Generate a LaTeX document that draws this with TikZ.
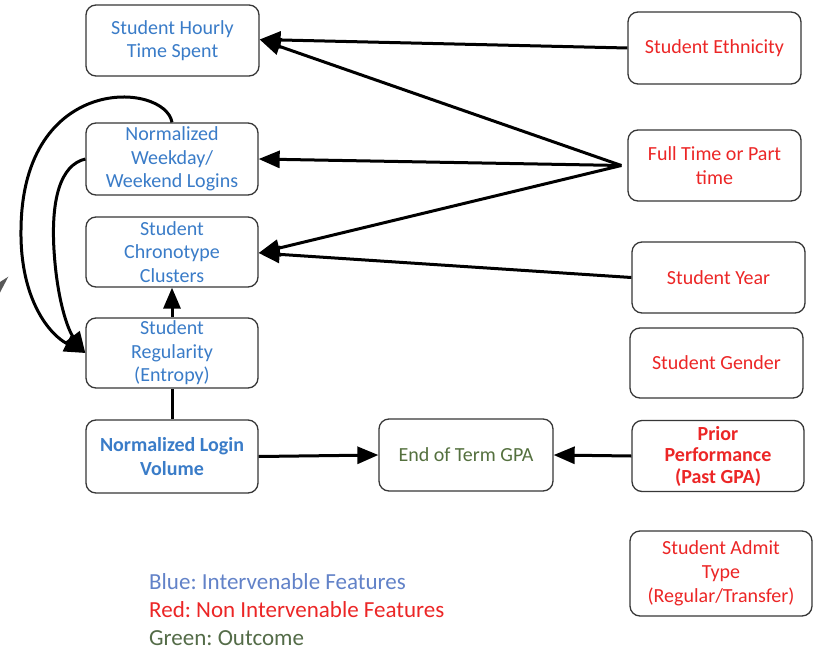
\documentclass[tikz,border=0pt]{standalone}
\usepackage{fontspec}
\setmainfont{Carlito}
\usetikzlibrary{arrows.meta}
\frenchspacing

\definecolor{featblue}{RGB}{58,124,200}
\definecolor{featred}{RGB}{236,38,38}
\definecolor{outgreen}{RGB}{84,112,62}
\definecolor{keyblue}{RGB}{98,130,200}
\definecolor{keygreen}{RGB}{84,108,72}
\definecolor{boxline}{RGB}{55,55,55}
\definecolor{tipgrey}{RGB}{88,88,88}

\tikzset{
  feature/.style={draw=boxline, line width=1.3pt, rounded corners=10pt, fill=white,
    align=center, inner sep=1pt, font=\fontsize{20}{23.5}\selectfont},
  intv/.style={feature, text=featblue},
  nonintv/.style={feature, text=featred},
  outcome/.style={feature, text=outgreen},
  link/.style={line width=3pt, -{Triangle[length=21pt,width=17pt]}},
  plainlink/.style={line width=3pt},
  keytext/.style={anchor=west, inner sep=0pt, font=\fontsize{23}{26}\selectfont}
}

\begin{document}
\begin{tikzpicture}[x=1pt,y=-1pt]
\useasboundingbox[fill=white] (0,0) rectangle (813,650);

% intervenable features (left column)
\node[intv, minimum width=173pt, minimum height=71pt] (hours) at (172.5,40.5) {Student Hourly\\Time Spent};
\node[intv, minimum width=172pt, minimum height=72pt] (week) at (172,159) {Normalized\\Weekday/\\Weekend Logins};
\node[intv, minimum width=172pt, minimum height=70pt] (chrono) at (172,252) {Student\\Chronotype\\Clusters};
\node[intv, minimum width=172pt, minimum height=70pt] (reg) at (172,353) {Student\\Regularity\\(Entropy)};
\node[intv, minimum width=172pt, minimum height=73pt, font=\bfseries\fontsize{20}{23.5}\selectfont] (login) at (172,456.5) {Normalized Login\\Volume};

% outcome
\node[outcome, minimum width=174pt, minimum height=72pt] (gpa) at (466,455) {End of Term GPA};

% non-intervenable features (right column)
\node[nonintv, minimum width=173pt, minimum height=72pt] (eth) at (714.5,48) {Student Ethnicity};
\node[nonintv, minimum width=173pt, minimum height=71pt] (ft) at (714.5,165.5) {Full Time or Part\\time};
\node[nonintv, minimum width=173pt, minimum height=71pt] (year) at (718.5,277.5) {Student Year};
\node[nonintv, minimum width=173pt, minimum height=70pt] (gender) at (716.5,363) {Student Gender};
\node[nonintv, minimum width=172pt, minimum height=71pt, font=\bfseries\fontsize{20}{21.5}\selectfont] (prior) at (718,456) {Prior\\Performance\\(Past GPA)};
\node[nonintv, minimum width=182pt, minimum height=85pt, font=\fontsize{20}{24}\selectfont] (admit) at (721,573.5) {Student Admit\\Type\\(Regular/Transfer)};

% where the three links from the enrolment status meet
\coordinate (ftout) at ([xshift=-6pt]ft.west);
\coordinate (hourstip) at ([yshift=1pt]hours.east);
\coordinate (chronotip) at ([yshift=-1pt]chrono.east);

% straight links
\draw[link] (eth.west) -- (hourstip);
\draw[link] (ftout) -- (hourstip);
\draw[link] (ftout) -- (week.east);
\draw[link] (ftout) -- (chronotip);
\draw[link] (year.west) -- (chronotip);
\draw[link] (reg.north) -- (chrono.south);
\draw[plainlink] (login.north) -- (reg.south);
\draw[link] (login.east) -- (gpa.west);
\draw[link] (prior.west) -- (gpa.east);

% curved links into regularity
\coordinate (outer) at (21,230);
\coordinate (inner) at (54,250);
\draw[link] (week.north) .. controls (165,82) and (22,72) .. (outer)
  .. controls (20,300) and (50,335) .. (reg.west);
\draw[link] (week.west) .. controls (60,165) and (51,200) .. (inner)
  .. controls (57,300) and (68,330) .. (reg.west);

% small grey arrowhead at the left edge
\fill[tipgrey] (8.3,276.7) -- (0,282) -- (0,292.5) -- cycle;

% colour key
\node[keytext, text=keyblue] (keyblue) at (149,582) {Blue: Intervenable Features};
\node[keytext, text=featred] (keyred) at (149,610) {Red: Non Intervenable Features};
\node[keytext, text=keygreen] (keygreen) at (149,638) {Green: Outcome};
\end{tikzpicture}
\end{document}
